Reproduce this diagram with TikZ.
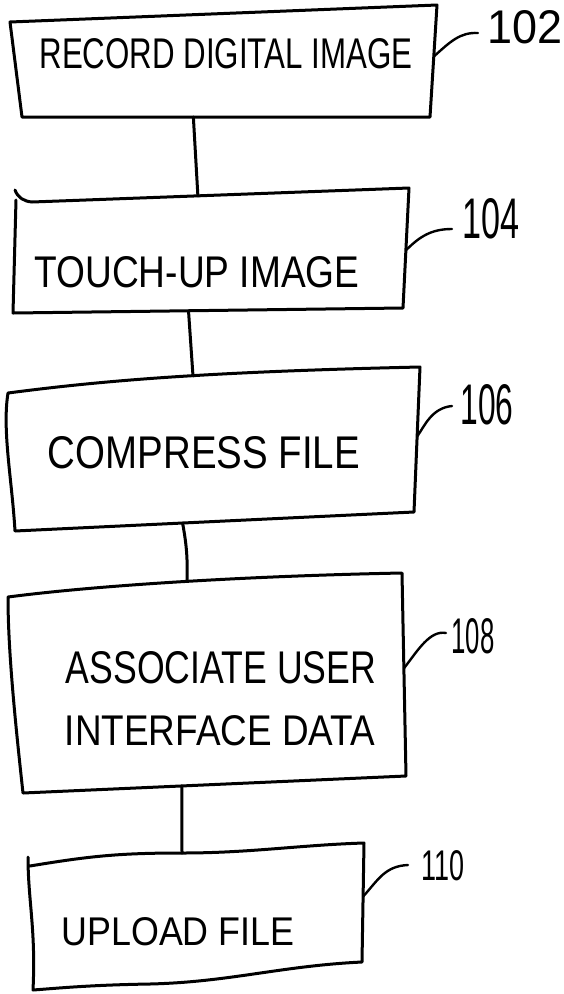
\documentclass[tikz,border=0pt]{standalone}
\usepackage{fontspec}
\setmainfont{Liberation Sans}
\usepackage{graphicx}
\usetikzlibrary{calc}
\newcommand{\hand}[3]{\resizebox{#1pt}{#2pt}{#3}}

\begin{document}
\begin{tikzpicture}[x=1pt, y=-1pt, line join=round, line cap=round, line width=3pt]
\tikzset{lbl/.style={inner sep=0pt, anchor=center},
         leader/.style={line width=2.4pt}}
\useasboundingbox (0,0) rectangle (564,994);

\draw (10,22)--(437,5)--coordinate[pos=.46](r102)(430,117)--coordinate[pos=.58](s102)(22,117)--cycle;

\draw (15,190) to[out=-70,in=175] (32,202)--coordinate[pos=.44](n104)(409,188)--coordinate[pos=.52](r104)(403,308)--coordinate[pos=.55](s104)(13,313)--(16,200);

\draw (8,393) .. controls (100,381) and (200,372) .. (420,367)--coordinate[pos=.48](r106)(414,512)--coordinate[pos=.58](s106)(15,531) .. controls (12,480) and (2,430) .. (8,393)--cycle;
\coordinate (n106) at (193,376);

\draw (8,597) .. controls (100,585) and (250,576) .. (402,573)--coordinate[pos=.47](r108)(406,776)--coordinate[pos=.585](s108)(23,793) .. controls (15,720) and (8,650) .. (8,597)--cycle;
\coordinate (n108) at (187,581);

\draw (30,866) .. controls (90,856) and (120,853) .. (182,853) .. controls (250,853) and (300,845) .. (364,843)--coordinate[pos=.45](r110)(362,962) .. controls (280,966) and (230,982) .. (150,984) .. controls (90,985) and (60,988) .. (33,990) .. controls (36,930) and (28,900) .. (28,857);
\coordinate (n110) at (182,853);

\draw (s102)--(n104);
\draw (s104)--(n106);
\draw (s106) to[bend left=6] (n108);
\draw (s108)--(n110);

\node[lbl] (t102) at (226,54) {\hand{373}{30}{RECORD DIGITAL IMAGE}};
\node[lbl] (t104) at (197,272) {\hand{325}{31}{TOUCH-UP IMAGE}};
\node[lbl] (t106) at (204,453) {\hand{312}{32}{COMPRESS FILE}};
\node[lbl] (t108a) at (221,668) {\hand{310}{32}{ASSOCIATE USER}};
\node[lbl] (t108b) at (220,731) {\hand{310}{30}{INTERFACE DATA}};
\node[lbl] (t110) at (178,932) {\hand{233}{28}{UPLOAD FILE}};

\node[lbl] (l102) at (525,27) {\hand{75}{33}{102}};
\node[lbl] (l104) at (491,219) {\hand{57}{40}{104}};
\node[lbl] (l106) at (487,405) {\hand{53}{40}{106}};
\node[lbl] (l108) at (473,636) {\hand{43}{35}{108}};
\node[lbl] (l110) at (443,866) {\hand{43}{30}{110}};

\coordinate (e102) at (478,33);
\coordinate (e104) at (452,229);
\coordinate (e106) at (452,406);
\coordinate (e108) at (446,633);
\coordinate (e110) at (408,865);

\draw[leader] (r102) .. controls (450,42) and (460,32) .. (e102);
\draw[leader] (r104) .. controls (420,236) and (432,229) .. (e104);
\draw[leader] (r106) .. controls (425,425) and (432,408) .. (e106);
\draw[leader] (r108) .. controls (418,650) and (430,630) .. (e108);
\draw[leader] (r110) .. controls (378,880) and (385,866) .. (e110);

\end{tikzpicture}
\end{document}
